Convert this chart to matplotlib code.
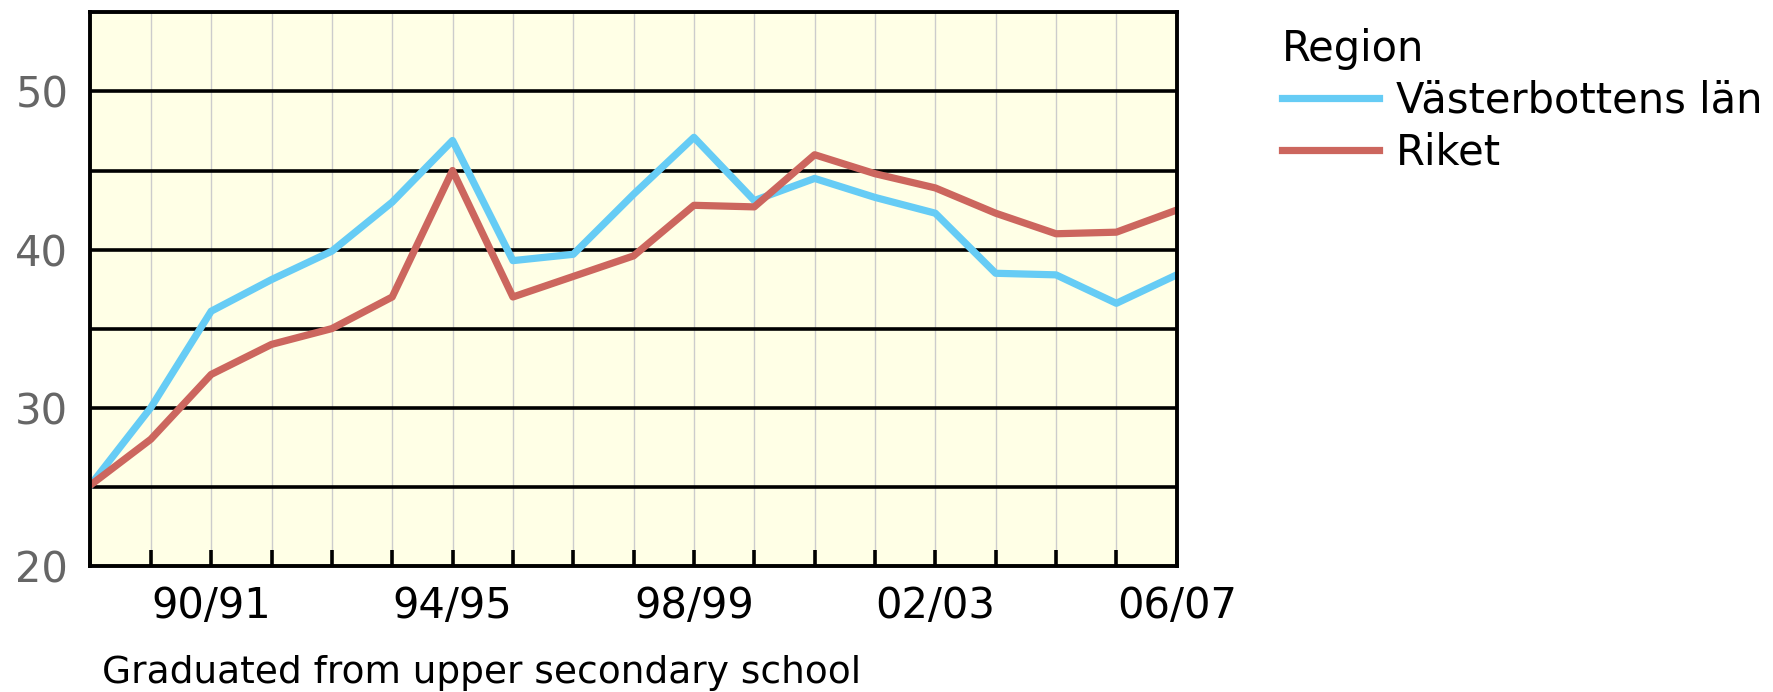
import matplotlib.pyplot as plt

# Data -------------------------------------------------------------------
seasons = ['88/89', '89/90', '90/91', '91/92', '92/93', '93/94', '94/95',
           '95/96', '96/97', '97/98', '98/99', '99/00', '00/01', '01/02',
           '02/03', '03/04', '04/05', '05/06', '06/07']
vasterbotten = [25.1, 30.0, 36.1, 38.1, 39.9, 43.0, 46.9, 39.3, 39.7, 43.5,
                47.1, 43.1, 44.5, 43.3, 42.3, 38.5, 38.4, 36.6, 38.4]
riket = [25.1, 28.0, 32.1, 34.0, 35.0, 37.0, 45.0, 37.0, 38.3, 39.6,
         42.8, 42.7, 46.0, 44.8, 43.9, 42.3, 41.0, 41.1, 42.5]
labelled = ['90/91', '94/95', '98/99', '02/03', '06/07']

blue = '#66ccf5'
red = '#cc665e'

fig = plt.figure(figsize=(17.74, 6.92), dpi=100)
ax = fig.add_axes([0.051, 0.1825, 0.6123, 0.7995])
ax.set_facecolor('#ffffe6')

x = list(range(len(seasons)))
ax.plot(x, vasterbotten, color=blue, lw=5.2, label='Västerbottens län',
        solid_joinstyle='round', zorder=3)
ax.plot(x, riket, color=red, lw=5.2, label='Riket',
        solid_joinstyle='round', zorder=3)

ax.set_xlim(0, len(seasons) - 1)
ax.set_ylim(20, 55)

# grid: black horizontal every 5, light vertical every year
for y in range(25, 55, 5):
    ax.axhline(y, color='black', lw=2.6, zorder=1)
for xi in x[1:-1]:
    ax.axvline(xi, color='#cccccc', lw=1.0, zorder=0.5)

ax.set_xticks(x)
ax.set_xticklabels([s if s in labelled else '' for s in seasons])
ax.set_yticks([20, 30, 40, 50])
ax.tick_params(axis='x', direction='in', length=11.5, width=2.6,
               labelsize=30, pad=14, colors='black')
ax.tick_params(axis='y', length=0, labelsize=30, pad=16, labelcolor='#666666')
for sp in ax.spines.values():
    sp.set_linewidth(2.8)
    sp.set_zorder(4)

fig.text(0.0575, 0.027, 'Graduated from upper secondary school',
         fontsize=27, va='center', ha='left')

leg = ax.legend(title='Region', loc='upper left',
                bbox_to_anchor=(1282 / 1774, 1 - 28 / 692),
                bbox_transform=fig.transFigure, frameon=False,
                fontsize=30, title_fontsize=30, handlelength=2.34,
                handletextpad=0.39, labelspacing=0.23, borderpad=0,
                borderaxespad=0)
leg._legend_box.align = 'left'

fig.savefig('out.png', dpi=100)
